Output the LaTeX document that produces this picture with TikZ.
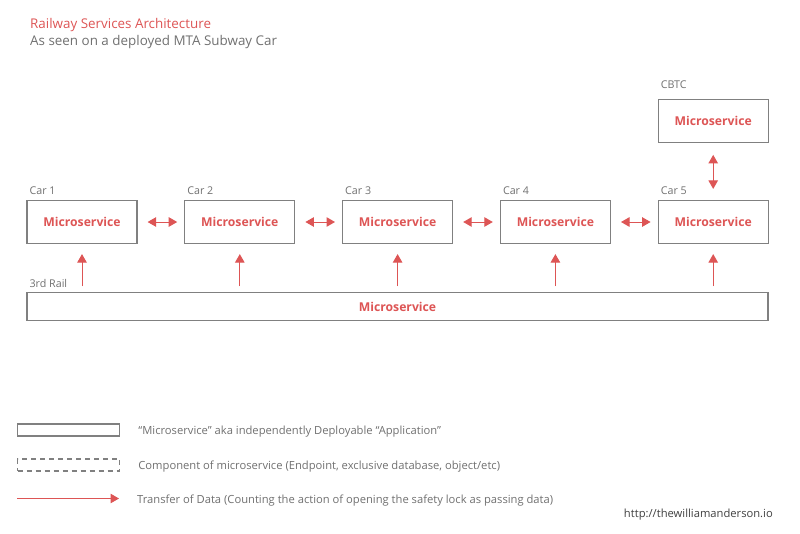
\documentclass[tikz,border=0pt]{standalone}
\usepackage{fontspec}
\setmainfont{Open Sans}
\usetikzlibrary{arrows.meta,positioning}
\definecolor{railred}{RGB}{221,85,85}
\definecolor{boxgray}{RGB}{128,128,128}
\definecolor{textgray}{RGB}{112,112,112}

\begin{document}
\begin{tikzpicture}[x=1pt,y=1pt,>={Triangle[length=8.5pt,width=9.5pt]},
                    node distance=46.6pt]
\tikzstyle{service}=[draw=boxgray,line width=1.2pt,minimum width=110pt,minimum height=43pt,
                     inner sep=0pt,text=railred,font=\fontsize{12.2}{14}\selectfont\bfseries]
\tikzstyle{flow}=[draw=railred,fill=railred,line width=1pt]
\tikzstyle{tag}=[text=textgray,inner sep=0pt,anchor=base west,font=\fontsize{10.7}{12}\selectfont]
\tikzstyle{legend}=[text=textgray,inner sep=0pt,yshift=-2pt,font=\fontsize{11.2}{13}\selectfont]
\useasboundingbox (0,0) rectangle (800,-533);
\node[anchor=base west,inner sep=0pt,text=railred,font=\fontsize{13.4}{15}\selectfont] (title) at (30,-28.5) {Railway Services Architecture};
\node[anchor=base west,inner sep=0pt,text=textgray,font=\fontsize{13.4}{15}\selectfont] (subtitle) at (30,-45) {As seen on a deployed MTA Subway Car};
\node[service] (car1) at (82,-222) {Microservice};
\node[service] (car2) [right=of car1] {Microservice};
\node[service] (car3) [right=of car2] {Microservice};
\node[service] (car4) [right=of car3] {Microservice};
\node[service] (car5) [right=of car4] {Microservice};
\node[service] (cbtc) [above=57pt of car5] {Microservice};
\node[service,minimum width=741pt,minimum height=28pt,below=48pt of car1.south west,anchor=north west] (rail) {Microservice};
\foreach \n in {1,...,5}
  \node[tag] at ([xshift=3pt,yshift=5pt]car\n.north west) {Car \n};
\node[tag] at ([xshift=3pt,yshift=10pt]cbtc.north west) {CBTC};
\node[tag] at ([xshift=3pt,yshift=5pt]rail.north west) {3rd Rail};
\foreach \a/\b in {1/2,2/3,3/4,4/5}
  \draw[flow,<->,shorten <=10pt,shorten >=7pt] (car\a) -- (car\b);
\foreach \n in {1,...,5}
  \draw[flow,->,shorten <=6pt,shorten >=10pt] (car\n.south |- rail.north) -- (car\n.south);
\draw[flow,<->,shorten <=11pt,shorten >=12pt] (car5) -- (cbtc);
\node[draw=boxgray,line width=1.2pt,minimum width=102pt,minimum height=12pt,inner sep=0pt,anchor=west] (keyservice) at (17,-430) {};
\node[draw=boxgray,line width=1.2pt,dash pattern=on 5pt off 4pt,minimum width=102pt,minimum height=12pt,inner sep=0pt,anchor=west] (keypart) at (17,-465) {};
\coordinate (keyfrom) at (17,-498.5);
\coordinate (keyto) at (119,-498.5);
\draw[flow,->] (keyfrom) -- (keyto);
\node[legend,right=18pt of keyservice] {“Microservice” aka independently Deployable “Application”};
\node[legend,right=18pt of keypart] {Component of microservice (Endpoint, exclusive database, object/etc)};
\node[legend,anchor=west] at ([xshift=18pt]keyto) {Transfer of Data (Counting the action of opening the safety lock as passing data)};
\node[anchor=base east,inner sep=0pt,text=black!75,font=\fontsize{11.2}{13}\selectfont] (site) at (773,-517) {http://thewilliamanderson.io};
\end{tikzpicture}
\end{document}
